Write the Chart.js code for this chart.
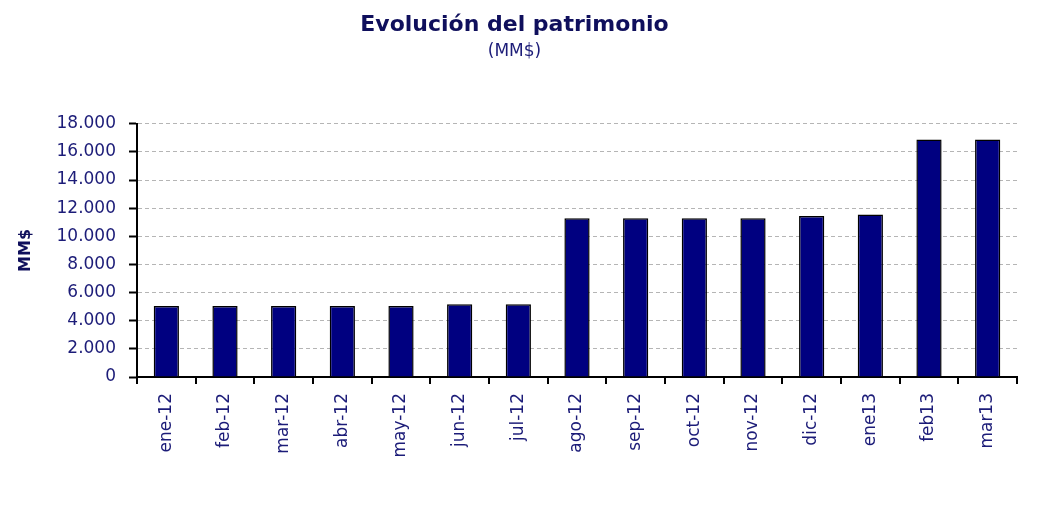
<!DOCTYPE html>
<html>
<head>
<meta charset="utf-8">
<script src="https://cdn.jsdelivr.net/npm/chart.js@4"></script>
<style>
  html, body { margin: 0; padding: 0; background: #fff; }
  #wrap { width: 1044px; height: 506px; }
</style>
</head>
<body>
<div id="wrap"><canvas id="myChart" width="1044" height="506"></canvas></div>
<script>
// datos
const meses = ['ene-12','feb-12','mar-12','abr-12','may-12','jun-12','jul-12','ago-12','sep-12','oct-12','nov-12','dic-12','ene13','feb13','mar13'];
const patrimonio = [5050, 5050, 5050, 5050, 5050, 5180, 5180, 11290, 11290, 11290, 11290, 11440, 11560, 16880, 16880];
const yMax = 18000;
const yStep = 2000;

const navy = '#1c1c78';

function miles(v){
    return String(v).replace(/\B(?=(\d{3})+(?!\d))/g, '.');
}

const ctx = document.getElementById('myChart').getContext('2d');
const myChart = new Chart(ctx, {
    type: 'bar',
    data: {
        labels: meses,
        datasets: [{
            label: 'MM$',
            data: patrimonio,
            backgroundColor: '#000080',
            borderColor: '#000000',
            borderWidth: 1.5,
            barPercentage: 0.43,
            categoryPercentage: 1
        }]
    },
    options: {
        responsive: false,
        animation: false,
        layout: { padding: { left: 12, right: 27, top: 8, bottom: 48 } },
        plugins: {
            legend: { display: false },
            tooltip: { enabled: false },
            title: {
                display: true,
                text: 'Evolución del patrimonio',
                color: '#0f0f5c',
                font: { family: 'DejaVu Sans', size: 22, weight: 'bold' },
                padding: { top: 4, bottom: 2 }
            },
            subtitle: {
                display: true,
                text: '(MM$)',
                color: navy,
                font: { family: 'DejaVu Sans', size: 17 },
                padding: { top: 1, bottom: 62 }
            }
        },
        scales: {
            x: {
                grid: { display: false, offset: true },
                border: { color: '#000', width: 2 },
                afterFit: s => { s.height = 81; },
                ticks: {
                    color: navy,
                    font: { family: 'DejaVu Sans', size: 17 },
                    minRotation: 90,
                    maxRotation: 90,
                    padding: 8
                }
            },
            y: {
                min: 0,
                max: yMax,
                afterFit: s => { s.width = 125; },
                border: { color: '#000', width: 2, dash: [4, 3] },
                grid: {
                    color: c => c.tick.value === 0 ? 'rgba(0,0,0,0)' : '#b5b5b5',
                    tickColor: '#000',
                    tickLength: 8,
                    tickWidth: 2
                },
                ticks: {
                    stepSize: yStep,
                    color: navy,
                    font: { family: 'DejaVu Sans', size: 17 },
                    padding: 13,
                    callback: v => miles(v)
                },
                title: {
                    display: true,
                    text: 'MM$',
                    color: '#0f0f5c',
                    font: { family: 'DejaVu Sans', size: 16, weight: 'bold' },
                    padding: { bottom: 10 }
                }
            }
        }
    },
    plugins: [{
        // marcas del eje x entre categorias
        id: 'marcasX',
        beforeDatasetsDraw(chart){
            const c = chart.ctx;
            const xs = chart.scales.x, ys = chart.scales.y;
            c.save();
            c.strokeStyle = '#000';
            c.lineWidth = 2;
            const n = meses.length;
            const w = (xs.right - xs.left) / n;
            for (let i = 0; i <= n; i++) {
                const x = Math.round(xs.left + i * w);
                c.beginPath();
                c.moveTo(x, ys.bottom);
                c.lineTo(x, ys.bottom + 7);
                c.stroke();
            }
            c.restore();
        }
    }]
});
</script>
</body>
</html>
